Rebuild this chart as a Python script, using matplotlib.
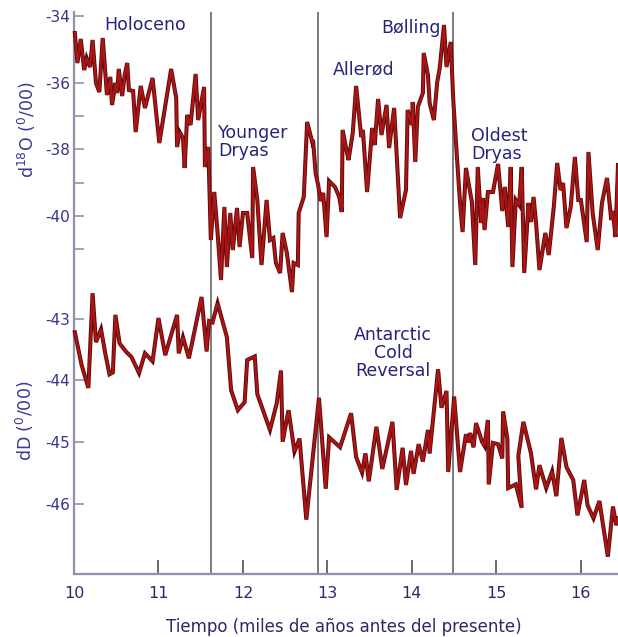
import matplotlib
matplotlib.use("Agg")
import matplotlib.pyplot as plt
import matplotlib.patheffects as pe

plt.rcParams["font.family"] = ["DejaVu Sans"]
plt.rcParams["axes.unicode_minus"] = False

# Time axis, thousands of years before present
time_d18o = [
    10.01, 10.04, 10.08, 10.12, 10.15, 10.19, 10.22, 10.26, 10.30, 10.34,
    10.39, 10.43, 10.45, 10.49, 10.51, 10.53, 10.57, 10.60, 10.63, 10.65,
    10.70, 10.73, 10.79, 10.84, 10.93, 11.01, 11.15, 11.21, 11.22, 11.25,
    11.29, 11.31, 11.34, 11.38, 11.44, 11.47, 11.54, 11.55, 11.59, 11.62,
    11.66, 11.70, 11.74, 11.78, 11.81, 11.85, 11.88, 11.93, 11.96, 12.00,
    12.05, 12.11, 12.12, 12.17, 12.22, 12.28, 12.32, 12.36, 12.39, 12.44,
    12.47, 12.52, 12.58, 12.60, 12.65, 12.66, 12.72, 12.76, 12.82, 12.83,
    12.86, 12.89, 12.92, 12.95, 12.99, 13.02, 13.09, 13.14, 13.17, 13.18,
    13.23, 13.25, 13.30, 13.34, 13.40, 13.42, 13.47, 13.53, 13.56, 13.60,
    13.64, 13.70, 13.73, 13.79, 13.86, 13.93, 13.95, 14.00, 14.01, 14.04,
    14.07, 14.13, 14.14, 14.19, 14.21, 14.26, 14.30, 14.33, 14.38, 14.41,
    14.46, 14.49, 14.53, 14.57, 14.60, 14.64, 14.71, 14.75, 14.78, 14.82,
    14.84, 14.86, 14.90, 14.96, 15.02, 15.07, 15.10, 15.14, 15.17, 15.19,
    15.23, 15.27, 15.30, 15.33, 15.38, 15.41, 15.44, 15.47, 15.51, 15.58,
    15.62, 15.68, 15.72, 15.76, 15.79, 15.83, 15.88, 15.93, 15.97, 16.00,
    16.07, 16.09, 16.14, 16.20, 16.25, 16.31, 16.36, 16.38, 16.41, 16.44,
]
d18o = [
    -34.51, -35.41, -34.69, -35.62, -35.26, -35.53, -34.72, -36.01, -36.28, -34.66,
    -36.37, -35.83, -36.67, -36.01, -36.31, -35.59, -36.40, -35.77, -35.41, -36.22,
    -36.25, -37.48, -36.10, -36.76, -35.86, -37.81, -35.59, -36.46, -37.93, -37.48,
    -37.66, -38.56, -36.97, -37.27, -35.74, -37.12, -36.13, -38.53, -37.93, -40.72,
    -39.28, -40.51, -41.92, -39.73, -41.53, -39.91, -41.02, -39.76, -40.93, -39.91,
    -39.91, -41.26, -38.53, -39.52, -41.47, -39.52, -40.72, -40.66, -41.41, -41.71,
    -40.51, -41.11, -42.28, -41.41, -41.47, -39.91, -39.43, -37.18, -37.78, -37.72,
    -38.71, -39.07, -39.55, -39.31, -40.63, -38.95, -39.13, -39.43, -39.88, -37.42,
    -38.08, -38.32, -37.51, -36.10, -37.63, -37.42, -39.28, -37.36, -37.87, -36.49,
    -37.57, -36.67, -37.96, -36.76, -40.06, -39.22, -36.82, -37.27, -36.58, -38.38,
    -36.73, -36.31, -35.11, -35.77, -36.61, -37.12, -35.98, -35.56, -34.27, -35.53,
    -34.78, -36.52, -38.11, -39.61, -40.48, -38.56, -39.58, -41.47, -38.53, -40.21,
    -39.46, -40.42, -39.28, -39.28, -38.44, -39.85, -39.13, -40.33, -38.53, -41.53,
    -39.52, -39.67, -38.53, -41.71, -39.61, -40.18, -39.43, -40.21, -41.62, -40.51,
    -41.17, -39.73, -38.41, -39.22, -39.01, -40.36, -39.73, -38.23, -39.52, -39.52,
    -40.78, -38.08, -39.91, -41.02, -39.61, -38.86, -40.12, -39.85, -40.63, -38.47,
]

time_dd = [
    10.01, 10.09, 10.17, 10.22, 10.26, 10.32, 10.37, 10.42, 10.46, 10.49,
    10.54, 10.62, 10.68, 10.77, 10.84, 10.93, 11.00, 11.08, 11.22, 11.24,
    11.29, 11.36, 11.51, 11.57, 11.60, 11.64, 11.70, 11.81, 11.86, 11.94,
    12.02, 12.05, 12.14, 12.17, 12.32, 12.40, 12.45, 12.47, 12.54, 12.61,
    12.67, 12.75, 12.90, 12.98, 13.02, 13.15, 13.28, 13.34, 13.41, 13.45,
    13.49, 13.58, 13.65, 13.77, 13.82, 13.89, 13.93, 13.99, 14.02, 14.08,
    14.13, 14.19, 14.21, 14.31, 14.35, 14.41, 14.43, 14.50, 14.57, 14.64,
    14.67, 14.69, 14.73, 14.76, 14.83, 14.86, 14.90, 14.91, 14.96, 15.02,
    15.07, 15.08, 15.13, 15.14, 15.23, 15.30, 15.26, 15.32, 15.41, 15.47,
    15.51, 15.59, 15.66, 15.71, 15.77, 15.83, 15.91, 15.96, 16.04, 16.08,
    16.15, 16.22, 16.32, 16.38, 16.42, 16.44,
]
dd = [
    -43.22, -43.75, -44.12, -42.59, -43.38, -43.17, -43.56, -43.90, -43.87, -42.94,
    -43.40, -43.54, -43.62, -43.88, -43.56, -43.69, -42.99, -43.59, -42.94, -43.56,
    -43.30, -43.64, -42.65, -43.53, -43.04, -43.06, -42.75, -43.30, -44.16, -44.48,
    -44.35, -43.67, -43.61, -44.22, -44.80, -44.37, -43.84, -44.99, -44.48, -45.15,
    -44.94, -46.25, -44.28, -45.75, -44.92, -45.08, -44.53, -45.24, -45.49, -45.18,
    -45.63, -44.75, -45.43, -44.67, -45.77, -45.09, -45.69, -45.14, -45.51, -45.03,
    -45.31, -44.80, -45.18, -43.82, -44.44, -44.17, -45.48, -44.26, -45.48, -44.87,
    -45.00, -44.85, -45.08, -44.69, -44.99, -45.06, -44.64, -45.68, -45.01, -45.03,
    -45.26, -44.50, -44.94, -45.74, -45.68, -46.06, -45.22, -44.67, -45.18, -45.76,
    -45.37, -45.74, -45.47, -45.87, -44.93, -45.40, -45.61, -46.18, -45.61, -46.02,
    -46.23, -45.95, -46.85, -46.04, -46.34, -46.23,
]

# Boundaries between climatic periods (ka BP)
period_bounds = [11.62, 12.89, 14.49]

x_ticks = [10, 11, 12, 13, 14, 15, 16]
d18o_ticks = [-34, -36, -38, -40]
d18o_minor = [-35, -37, -39, -41]
dd_ticks = [-43, -44, -45, -46]

W, H = 618, 637
fig = plt.figure(figsize=(W / 100, H / 100), dpi=100)
fig.patch.set_facecolor("white")

ax = fig.add_axes([74 / W, 63 / H, 544 / W, 562 / H])
ax.set_xlim(10, 16.44)
ax.set_ylim(-47.13, -38.04)

ax2 = ax.twinx()
ax2.set_ylim(-50.74, -33.88)

axis_col = "#9090b0"
tick_txt = "#34348a"
note_col = "#24247a"
line_red = "#a81616"
line_dark = "#640808"

for s in ["top", "right"]:
    ax.spines[s].set_visible(False)
for s in ax2.spines.values():
    s.set_visible(False)
ax.spines["left"].set_color(axis_col)
ax.spines["bottom"].set_color(axis_col)
ax.spines["left"].set_linewidth(1.6)
ax.spines["bottom"].set_linewidth(1.6)

# x axis
ax.set_xticks(x_ticks)
ax.set_xticklabels([str(t) for t in x_ticks])
ax.tick_params(axis="x", direction="in", length=10, width=1.2, color="#505060",
               labelsize=11.5, labelcolor="#2a2a6a", pad=9)

# deltaD axis (lower block)
ax.set_yticks(dd_ticks)
ax.set_yticklabels([str(t) for t in dd_ticks])
ax.tick_params(axis="y", direction="in", length=7, width=1.2, color=axis_col,
               labelsize=11, labelcolor=tick_txt, pad=3)

# delta18O axis (upper block), drawn on the same left spine
ax2.yaxis.set_ticks_position("left")
ax2.yaxis.set_label_position("left")
ax2.set_yticks(d18o_ticks)
ax2.set_yticklabels([str(t) for t in d18o_ticks])
ax2.set_yticks(d18o_minor, minor=True)
ax2.tick_params(axis="y", which="major", direction="in", length=7, width=1.2,
                color=axis_col, labelsize=11, labelcolor=tick_txt, pad=3)
ax2.tick_params(axis="y", which="minor", direction="in", length=7, width=1.2,
                color=axis_col)

for xb in period_bounds:
    ax.axvline(xb, color="#727272", lw=1.3, zorder=1)

effects = [pe.Stroke(linewidth=2.9, foreground=line_dark), pe.Normal()]
ax.plot(time_dd, dd, color=line_red, lw=1.6, solid_joinstyle="miter",
        path_effects=effects, zorder=3, clip_on=False)
ax2.plot(time_d18o, d18o, color=line_red, lw=1.6, solid_joinstyle="miter",
         path_effects=effects, zorder=3, clip_on=False)


def px(x, y):
    return x / W, 1 - y / H


fig.text(*px(27, 130), "d$^{18}$O ($^{0}$/00)", rotation=90, ha="center",
         va="center", fontsize=12.5, color="#3a3a96")
fig.text(*px(25, 421), "dD ($^{0}$/00)", rotation=90, ha="center",
         va="center", fontsize=12.5, color="#3a3a96")
fig.text(*px(344, 627), "Tiempo (miles de años antes del presente)",
         ha="center", va="center", fontsize=12, color="#2a2a6a")

note_kw = dict(fontsize=12.5, color=note_col, linespacing=1.0)
fig.text(*px(145, 25), "Holoceno", ha="center", va="center", **note_kw)
fig.text(*px(218, 142), "Younger\nDryas", ha="left", va="center", **note_kw)
fig.text(*px(364, 69), "Allerød", ha="center", va="center", **note_kw)
fig.text(*px(411, 28), "Bølling", ha="center", va="center", **note_kw)
fig.text(*px(471, 145), "Oldest\nDryas", ha="left", va="center", **note_kw)
fig.text(*px(393, 353), "Antarctic\nCold\nReversal", ha="center",
         va="center", multialignment="center", **note_kw)

fig.savefig("out.png", dpi=100, facecolor="white")
